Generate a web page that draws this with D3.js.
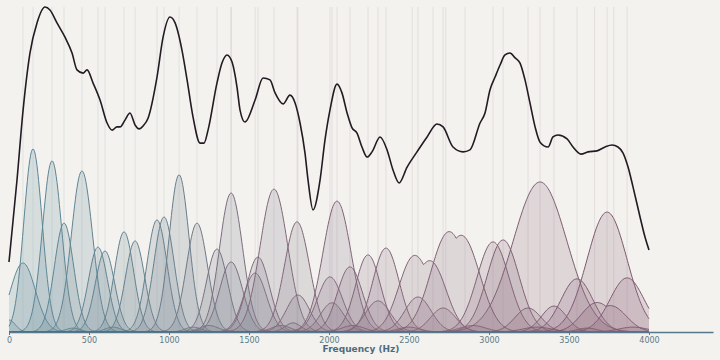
<html lang="en">
<head>
<meta charset="UTF-8">
<title>Filter bank</title>
<script src="https://d3js.org/d3.v7.min.js"></script>
<style>
  body { margin: 0; background: #f3f2ee; }
  svg { display: block; }
</style>
</head>
<body>
<div id="chart"></div>
<script>
// spectral envelope (black line)
const lineFreqs = [0, 50, 88, 131, 175, 225, 256, 300, 350, 394, 425, 463, 488, 525, 569, 613, 644, 675, 694, 725,
  756, 788, 813, 838, 869, 925, 963, 1006, 1038, 1081, 1113, 1150, 1194, 1219, 1244, 1300, 1331, 1363, 1394, 1425,
  1444, 1475, 1538, 1588, 1631, 1663, 1713, 1756, 1788, 1819, 1850, 1869, 1900, 1944, 1975, 2006, 2050, 2081, 2113,
  2144, 2175, 2206, 2238, 2269, 2319, 2363, 2400, 2438, 2488, 2550, 2613, 2675, 2713, 2775, 2838, 2881, 2944, 2975,
  3006, 3038, 3069, 3100, 3131, 3163, 3194, 3225, 3256, 3288, 3319, 3369, 3400, 3431, 3488, 3525, 3575, 3619, 3675,
  3725, 3769, 3806, 3838, 3869, 3900, 3944, 3975, 4000];
const lineValues = [21.6, 46.9, 68.5, 86.1, 95.4, 100.3, 99.4, 95.4, 91.0, 86.1, 80.9, 79.9, 80.9, 76.9, 71.6, 64.5,
  62.3, 63.3, 63.3, 65.4, 67.6, 63.9, 62.7, 63.6, 66.0, 78.7, 91.0, 97.2, 95.4, 87.0, 77.8, 66.4, 58.3, 58.3, 62.3,
  76.9, 83.0, 85.5, 83.3, 75.6, 68.5, 64.8, 71.6, 78.4, 77.8, 73.8, 70.4, 73.1, 70.7, 64.5, 55.2, 46.9, 37.7, 46.9,
  59.3, 68.5, 76.5, 73.8, 67.6, 63.0, 61.4, 57.1, 54.0, 55.6, 60.2, 56.2, 50.0, 46.0, 50.9, 55.6, 60.2, 64.2, 63.3,
  57.1, 55.6, 56.2, 64.5, 67.6, 74.7, 78.7, 82.4, 85.5, 86.1, 84.6, 83.0, 77.8, 70.7, 63.3, 58.6, 57.1, 60.2, 60.8,
  59.6, 57.1, 54.9, 55.6, 55.9, 57.1, 57.7, 57.1, 55.2, 50.9, 44.8, 35.5, 29.3, 25.3];

// filter responses: centre (Hz), peak height, spread (Hz)
const bumpCenters = [0, 87, 150, 269, 344, 456, 556, 600, 719, 788, 925, 969, 1063, 1175, 1300, 1388, 1388, 1538,
  1556, 1656, 1800, 1806, 1775, 2006, 2019, 2050, 2131, 2244, 2306, 2356, 2520, 2650, 2556, 2730, 2850, 2713, 3025,
  3088, 3319, 3244, 3406, 3550, 3738, 3863, 3660, 3780, 3613,
  400, 650, 1150, 1250, 1700, 2150, 2500, 2900, 3300, 3900];
const bumpHeights = [3.7, 21.3, 56.5, 52.8, 33.6, 49.7, 26.2, 25.0, 30.9, 28.1, 34.6, 35.5, 48.5, 33.6, 25.6, 42.9,
  21.6, 18.2, 23.1, 44.1, 34.0, 11.4, 2.8, 17.0, 9.0, 40.4, 20.1, 23.8, 9.6, 25.9, 21.0, 19.0, 10.8, 26.0, 24.5, 7.4,
  27.8, 28.4, 46.3, 7.4, 8.0, 16.4, 37.0, 16.7, 8.0, 6.8, 1.2,
  1.2, 1.5, 1.5, 2.0, 2.0, 2.0, 1.5, 2.0, 1.5, 1.5];
const bumpWidths = [40, 78, 57, 60, 60, 66, 60, 60, 60, 60, 63, 63, 62, 66, 66, 72, 72, 72, 72, 86, 78, 72, 50, 78,
  72, 88, 78, 78, 78, 82, 90, 90, 82, 105, 105, 78, 100, 100, 168, 82, 78, 100, 125, 106, 90, 90, 60,
  45, 50, 50, 60, 60, 70, 70, 80, 90, 90];

const tickValues = [0, 500, 1000, 1500, 2000, 2500, 3000, 3500, 4000];

const width = 720, height = 360;
const svg = d3.select("#chart").append("svg")
  .attr("width", width)
  .attr("height", height)
  .style("background", "#f3f2ee");

const x = d3.scaleLinear().domain([0, 4400]).range([9, 713]);
const y = d3.scaleLinear().domain([0, 100]).range([332, 8]);

const strokeColor = d3.scaleLinear()
  .domain([0, 1000, 1500, 4000])
  .range(["#5b8798", "#65808f", "#84687c", "#7a566d"]);
const fillColor = d3.scaleLinear()
  .domain([0, 1000, 2200, 4000])
  .range(["#5f8d9d", "#72828f", "#8a7386", "#8e5f77"]);

const bumps = bumpCenters.map((c, i) => ({
  c: c, h: bumpHeights[i], s: bumpWidths[i]
}));

const freqGrid = d3.range(0, 4001, 5);
function shape(b) {
  return freqGrid.map(f => {
    const d = f - b.c;
    return [f, b.h * Math.exp(-d * d / (2 * b.s * b.s))];
  });
}

// faint guide lines at filter centres
svg.append("g")
  .selectAll("line")
  .data(bumps.filter(b => b.h > 5))
  .join("line")
  .attr("x1", d => x(d.c)).attr("x2", d => x(d.c))
  .attr("y1", 7).attr("y2", 332)
  .attr("stroke", d => strokeColor(d.c))
  .attr("stroke-opacity", 0.13)
  .attr("stroke-width", 1);

const area = d3.area()
  .x(d => x(d[0]))
  .y0(y(0))
  .y1(d => y(d[1]));
const curve = d3.line()
  .x(d => x(d[0]))
  .y(d => y(d[1]));

// some responses are broad, built from two neighbouring lobes drawn as one shape
const groups = [[30, 31], [33, 34], [44, 45]];
const grouped = new Set(groups.flat());

function drawShape(pts, c) {
  g.append("path")
    .datum(pts)
    .attr("d", area)
    .attr("fill", fillColor(c))
    .attr("fill-opacity", 0.2);
  g.append("path")
    .datum(pts)
    .attr("d", curve)
    .attr("fill", "none")
    .attr("stroke", strokeColor(c))
    .attr("stroke-width", 1);
}

const g = svg.append("g");
bumps.forEach((b, i) => {
  if (grouped.has(i)) return;
  drawShape(shape(b), b.c);
});
groups.forEach(([a, b]) => {
  const pa = shape(bumps[a]), pb = shape(bumps[b]);
  drawShape(pa.map((p, k) => [p[0], Math.max(p[1], pb[k][1]) + 0.35 * Math.min(p[1], pb[k][1])]),
    (bumps[a].c + bumps[b].c) / 2);
});

// envelope
svg.append("path")
  .datum(lineFreqs.map((f, i) => [f, lineValues[i]]))
  .attr("d", d3.line().x(d => x(d[0])).y(d => y(d[1])).curve(d3.curveMonotoneX))
  .attr("fill", "none")
  .attr("stroke", "#241a24")
  .attr("stroke-width", 1.6);

// axis
const axis = svg.append("g")
  .attr("transform", "translate(0,332)")
  .call(d3.axisBottom(x).tickValues(tickValues).tickFormat(d3.format("d"))
    .tickSize(3).tickPadding(2).tickSizeOuter(0));
axis.select(".domain").attr("stroke", "#55798a").attr("stroke-width", 1.5);
axis.selectAll(".tick line").attr("stroke", "#55798a");
axis.selectAll(".tick text")
  .attr("fill", "#5a7b8b")
  .style("font-family", "DejaVu Sans")
  .style("font-size", "8px");

svg.append("text")
  .attr("x", 361)
  .attr("y", 352)
  .attr("text-anchor", "middle")
  .style("font-family", "DejaVu Sans")
  .style("font-size", "9px")
  .style("font-weight", "bold")
  .attr("fill", "#4c6c7e")
  .text("Frequency (Hz)");
</script>
</body>
</html>
